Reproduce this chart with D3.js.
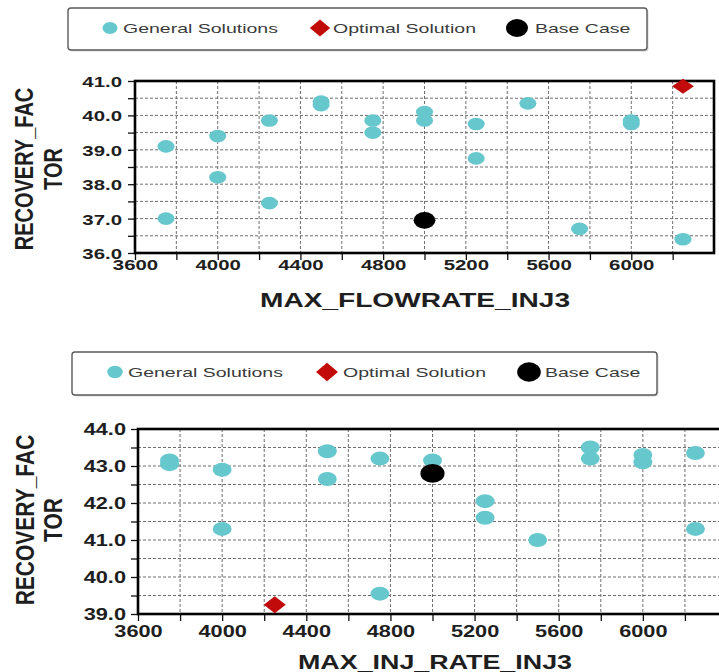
<!DOCTYPE html>
<html>
<head>
<meta charset="utf-8">
<script src="https://cdn.jsdelivr.net/npm/d3@7"></script>
<style>
  html, body { margin: 0; padding: 0; background: #fff; }
  svg { display: block; font-family: "Liberation Sans", Arial, sans-serif; }
</style>
</head>
<body>
<svg id="chart" width="719" height="672"></svg>
<script>
// ---- Panel 1: MAX_FLOWRATE_INJ3 vs RECOVERY_FACTOR ----
const flowGeneralX = [3750, 3750, 4000, 4000, 4250, 4250, 4500, 4500, 4750, 4750, 5000, 5000, 5250, 5250, 5500, 5750, 6000, 6000, 6250];
const flowGeneralY = [39.1, 37.0, 39.4, 38.2, 39.85, 37.45, 40.3, 40.4, 39.85, 39.5, 40.1, 39.85, 39.75, 38.75, 40.35, 36.7, 39.75, 39.85, 36.4];
const flowOptimalX = [6250];
const flowOptimalY = [40.85];
const flowBaseX = [5000];
const flowBaseY = [36.95];

// ---- Panel 2: MAX_INJ_RATE_INJ3 vs RECOVERY_FACTOR ----
const injGeneralX = [3750, 3750, 4000, 4000, 4500, 4500, 4750, 4750, 5000, 5250, 5250, 5500, 5750, 5750, 6000, 6000, 6250, 6250];
const injGeneralY = [43.05, 43.15, 42.9, 41.3, 43.4, 42.65, 43.2, 39.55, 43.15, 42.05, 41.6, 41.0, 43.5, 43.2, 43.3, 43.1, 43.35, 41.3];
const injOptimalX = [4250];
const injOptimalY = [39.25];
const injBaseX = [5000];
const injBaseY = [42.8];

// ---- Axis ticks and labels ----
const xTickValues = [3600, 3800, 4000, 4200, 4400, 4600, 4800, 5000, 5200, 5400, 5600, 5800, 6000, 6200];
const xLabelValues = [3600, 4000, 4400, 4800, 5200, 5600, 6000];
const flowYTicks = [36, 36.5, 37, 37.5, 38, 38.5, 39, 39.5, 40, 40.5, 41];
const flowYLabels = [36, 37, 38, 39, 40, 41];
const injYTicks = [39, 39.5, 40, 40.5, 41, 41.5, 42, 42.5, 43, 43.5, 44];
const injYLabels = [39, 40, 41, 42, 43, 44];
const legendLabels = ["General Solutions", "Optimal Solution", "Base Case"];
const yTitleLines = ["RECOVERY_FAC", "TOR"];

const COLOR_GENERAL = "#66c7cd";
const COLOR_OPTIMAL = "#c10a0a";
const COLOR_BASE = "#000000";

const svg = d3.select("#chart");

// circle / diamond path generators (stretched horizontally via transform)
const circlePath = r => d3.symbol(d3.symbolCircle, Math.PI * r * r)();
const squarePath = s => d3.symbol(d3.symbolSquare, s * s)();

function drawLegend(L) {
  const g = svg.append("g");
  g.append("rect")
    .attr("x", L.x + 1.5).attr("y", L.y + 1.5)
    .attr("width", L.w).attr("height", L.h).attr("rx", 3)
    .attr("fill", "#d8d8d8");
  g.append("rect")
    .attr("x", L.x).attr("y", L.y)
    .attr("width", L.w).attr("height", L.h).attr("rx", 3)
    .attr("fill", "#fff").attr("stroke", "#5a5a5a").attr("stroke-width", 1.4);

  g.append("path").attr("d", circlePath(L.genR))
    .attr("transform", `translate(${L.genX},${L.cy}) scale(1.25,1)`)
    .attr("fill", COLOR_GENERAL);
  g.append("path").attr("d", squarePath(L.diaS))
    .attr("transform", `translate(${L.optX},${L.cy}) scale(1.2,1) rotate(45)`)
    .attr("fill", COLOR_OPTIMAL);
  g.append("path").attr("d", circlePath(L.baseR))
    .attr("transform", `translate(${L.baseX},${L.cy}) scale(1.22,1)`)
    .attr("fill", COLOR_BASE);

  g.selectAll("text.leg").data(legendLabels).join("text")
    .attr("class", "leg")
    .attr("transform", (d, i) => `translate(${L.textX[i]},${L.cy + 5}) scale(1.5,1)`)
    .attr("font-size", 13)
    .attr("fill", "#3a3a3a")
    .text(d => d);
}

function drawPanel(P) {
  const x = d3.scaleLinear().domain([3600, 6400]).range([P.left, P.right]);
  const y = d3.scaleLinear().domain(P.yDomain).range([P.bottom, P.top]);
  const g = svg.append("g");

  // dashed grid
  g.selectAll("line.vg").data(xTickValues.slice(1)).join("line")
    .attr("class", "vg")
    .attr("x1", d => x(d)).attr("x2", d => x(d))
    .attr("y1", P.top).attr("y2", P.bottom)
    .attr("stroke", "#6e6e6e").attr("stroke-width", 1)
    .attr("stroke-dasharray", "3,2");
  g.selectAll("line.hg").data(P.yTicks.slice(1, -1)).join("line")
    .attr("class", "hg")
    .attr("x1", P.left).attr("x2", P.right)
    .attr("y1", d => y(d)).attr("y2", d => y(d))
    .attr("stroke", "#6e6e6e").attr("stroke-width", 1)
    .attr("stroke-dasharray", "3,2");

  // x axis
  const gx = g.append("g").attr("transform", `translate(0,${P.bottom})`)
    .call(d3.axisBottom(x).tickValues(xTickValues).tickSize(7)
      .tickFormat(d => xLabelValues.includes(d) ? d : ""));
  gx.select(".domain").remove();
  gx.selectAll("line").attr("stroke", "#111").attr("stroke-width", 1.3);
  gx.attr("font-family", null).attr("font-size", P.tickFont).attr("font-weight", "bold");
  gx.selectAll("text")
    .attr("y", null).attr("dy", null)
    .attr("fill", "#1e1e1e")
    .attr("transform", `translate(0,${P.xLabelBase}) scale(${P.tickSX},1)`);

  // y axis
  const gy = g.append("g").attr("transform", `translate(${P.left},0)`)
    .call(d3.axisLeft(y).tickValues(P.yTicks).tickSize(7)
      .tickFormat(d => P.yLabels.includes(d) ? d3.format(".1f")(d) : ""));
  gy.select(".domain").remove();
  gy.selectAll("line").attr("stroke", "#111").attr("stroke-width", 1.3);
  gy.attr("font-family", null).attr("font-size", P.tickFont).attr("font-weight", "bold");
  gy.selectAll("text")
    .attr("x", null).attr("dy", null)
    .attr("fill", "#1e1e1e")
    .attr("transform", `translate(${-P.yLabelGap},${P.tickFont * 0.36}) scale(${P.tickSX},1)`);

  // frame
  g.append("rect")
    .attr("x", P.left).attr("y", P.top)
    .attr("width", P.right - P.left).attr("height", P.bottom - P.top)
    .attr("fill", "none").attr("stroke", "#000").attr("stroke-width", 2.6);

  // axis titles
  g.append("text")
    .attr("x", P.xTitleX).attr("y", P.xTitleY)
    .attr("text-anchor", "middle")
    .attr("font-size", P.titleFont).attr("font-weight", "bold")
    .attr("fill", "#1e1e1e")
    .attr("textLength", P.xTitleLen).attr("lengthAdjust", "spacingAndGlyphs")
    .text(P.xTitle);
  g.selectAll("text.yt").data(yTitleLines).join("text")
    .attr("class", "yt")
    .attr("text-anchor", "middle")
    .attr("dy", "0.36em")
    .attr("font-size", P.titleFont).attr("font-weight", "bold")
    .attr("fill", "#1e1e1e")
    .attr("transform", (d, i) => `translate(${P.yTitleX[i]},${P.yTitleY}) scale(1.25,1) rotate(-90)`)
    .text(d => d);

  // points
  g.selectAll("path.gen").data(d3.zip(P.genX, P.genY)).join("path")
    .attr("class", "gen")
    .attr("d", circlePath(P.genR))
    .attr("transform", d => `translate(${x(d[0])},${y(d[1])}) scale(1.35,1)`)
    .attr("fill", COLOR_GENERAL);
  g.selectAll("path.base").data(d3.zip(P.baseX, P.baseY)).join("path")
    .attr("class", "base")
    .attr("d", circlePath(P.baseR))
    .attr("transform", d => `translate(${x(d[0])},${y(d[1])}) scale(1.3,1)`)
    .attr("fill", COLOR_BASE);
  g.selectAll("path.opt").data(d3.zip(P.optX, P.optY)).join("path")
    .attr("class", "opt")
    .attr("d", squarePath(P.diaS))
    .attr("transform", d => `translate(${x(d[0])},${y(d[1])}) scale(${P.diaSX},1) rotate(45)`)
    .attr("fill", COLOR_OPTIMAL);
}

drawLegend({ x: 68, y: 8, w: 579, h: 42, cy: 28,
  genX: 110, genR: 6, optX: 320, diaS: 12, baseX: 517, baseR: 9,
  textX: [123, 333, 535] });

drawPanel({
  left: 135, right: 714, top: 81, bottom: 253,
  yDomain: [36, 41], yTicks: flowYTicks, yLabels: flowYLabels,
  tickFont: 15, tickSX: 1.36, xLabelBase: 17, yLabelGap: 13,
  titleFont: 20, xTitle: "MAX_FLOWRATE_INJ3", xTitleX: 415, xTitleY: 307, xTitleLen: 310,
  yTitleX: [24, 53], yTitleY: 169,
  genX: flowGeneralX, genY: flowGeneralY, genR: 6.3,
  baseX: flowBaseX, baseY: flowBaseY, baseR: 8.4,
  optX: flowOptimalX, optY: flowOptimalY, diaS: 10.6, diaSX: 1.45
});

drawLegend({ x: 72, y: 352, w: 585, h: 43, cy: 372,
  genX: 115, genR: 6.2, optX: 327, diaS: 13, baseX: 529, baseR: 9.7,
  textX: [128, 343, 545] });

drawPanel({
  left: 138, right: 727, top: 429, bottom: 614,
  yDomain: [39, 44], yTicks: injYTicks, yLabels: injYLabels,
  tickFont: 16, tickSX: 1.36, xLabelBase: 23, yLabelGap: 12,
  titleFont: 21, xTitle: "MAX_INJ_RATE_INJ3", xTitleX: 435, xTitleY: 669, xTitleLen: 274,
  yTitleX: [25, 53], yTitleY: 520,
  genX: injGeneralX, genY: injGeneralY, genR: 7,
  baseX: injBaseX, baseY: injBaseY, baseR: 9.3,
  optX: injOptimalX, optY: injOptimalY, diaS: 12, diaSX: 1.3
});
</script>
</body>
</html>
